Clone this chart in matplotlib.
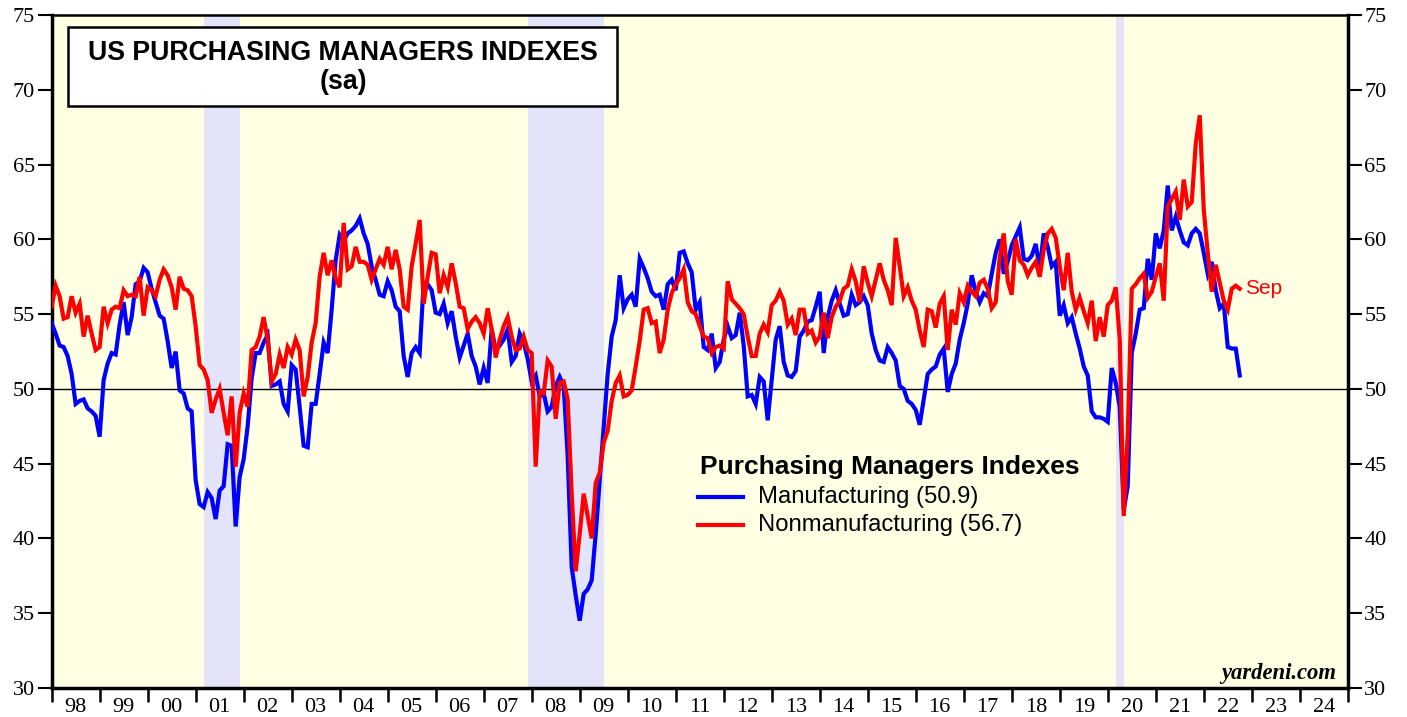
import matplotlib
matplotlib.use("Agg")
import matplotlib.pyplot as plt
from matplotlib.patches import Rectangle
import numpy as np

# Monthly data, first point = Dec 1997, last = Sep 2022
start_year, start_month = 1997, 12
manufacturing = [
    54.4, 53.7, 52.9, 52.8, 52.2, 51.0, 49.0, 49.2, 49.3, 48.7, 48.5, 48.2, 46.8,
    50.6, 51.7, 52.4, 52.3, 54.3, 55.8, 53.6, 54.8, 57.0, 57.2, 58.1, 57.8,
    56.7, 55.8, 54.9, 54.7, 53.2, 51.4, 52.5, 49.9, 49.7, 48.7, 48.5, 43.9,
    42.3, 42.1, 43.1, 42.7, 41.3, 43.2, 43.5, 46.3, 46.2, 40.8, 44.1, 45.3,
    47.5, 50.7, 52.4, 52.4, 53.1, 53.6, 50.2, 50.3, 50.5, 49.0, 48.5, 51.6,
    51.3, 48.8, 46.2, 46.1, 49.0, 49.0, 51.0, 53.1, 52.4, 55.3, 58.6, 60.3,
    59.9, 60.4, 60.6, 60.9, 61.4, 60.4, 59.7, 58.2, 57.3, 56.3, 56.2, 57.2,
    56.6, 55.5, 55.2, 52.2, 50.8, 52.4, 52.8, 52.4, 57.1, 57.0, 56.6, 55.1,
    55.0, 55.7, 54.4, 55.2, 53.5, 52.1, 52.9, 53.7, 52.2, 51.5, 50.3, 51.4,
    50.4, 54.0, 52.6, 52.9, 53.3, 54.0, 51.8, 52.2, 53.7, 53.1, 52.0, 50.5,
    50.9, 49.5, 49.7, 48.5, 48.8, 50.2, 50.8, 50.2, 45.5, 38.1, 36.2, 34.5,
    36.3, 36.6, 37.2, 40.3, 43.9, 47.5, 51.0, 53.5, 54.6, 57.6, 55.4, 56.0,
    56.3, 55.5, 58.7, 58.1, 57.4, 56.5, 56.2, 56.3, 55.3, 57.0, 57.3, 56.6,
    59.1, 59.2, 58.4, 57.8, 55.3, 55.8, 52.8, 52.6, 53.7, 51.4, 51.8, 53.3,
    54.2, 53.4, 53.6, 55.1, 52.9, 49.5, 49.6, 49.0, 50.8, 50.5, 47.9, 50.6,
    53.3, 54.2, 51.8, 50.9, 50.8, 51.2, 53.5, 53.9, 54.5, 54.6, 55.5, 56.5,
    52.4, 54.8, 55.9, 56.6, 55.7, 54.9, 55.0, 56.3, 55.6, 55.8, 56.2, 55.6,
    53.7, 52.6, 51.9, 51.8, 52.8, 52.4, 51.9, 50.2, 50.0, 49.2, 49.0, 48.6,
    47.6, 49.3, 51.0, 51.3, 51.5, 52.3, 52.7, 49.8, 51.0, 51.7, 53.3, 54.4,
    55.7, 57.6, 56.5, 55.8, 56.4, 56.2, 57.7, 59.1, 60.0, 57.7, 58.5, 59.6,
    60.2, 60.8, 58.7, 58.6, 58.9, 59.7, 58.0, 60.4, 59.5, 58.2, 58.5, 54.9,
    55.6, 54.4, 54.8, 53.7, 52.7, 51.5, 50.9, 48.5, 48.1, 48.1, 48.0, 47.8,
    51.4, 50.4, 48.8, 41.9, 43.5, 52.4, 53.7, 55.3, 55.4, 58.7, 57.3, 60.4,
    59.4, 60.6, 63.6, 60.6, 61.5, 60.6, 59.8, 59.6, 60.4, 60.7, 60.4, 59.1,
    57.7, 58.5, 56.6, 55.4, 55.7, 52.8, 52.7, 52.7, 50.9,
]
nonmanufacturing = [
    55.5, 56.9, 56.2, 54.7, 54.8, 56.2, 55.1, 55.7, 53.5, 54.9, 53.7, 52.6, 52.8,
    55.5, 54.4, 55.3, 55.5, 55.4, 56.6, 56.2, 56.3, 56.2, 57.5, 54.9, 56.8,
    56.6, 56.2, 57.3, 58.0, 57.6, 56.8, 55.3, 57.5, 56.7, 56.6, 56.2, 54.2,
    51.6, 51.3, 50.6, 48.4, 49.3, 50.0, 48.4, 46.9, 49.5, 44.8, 48.4, 49.7,
    48.8, 52.6, 52.8, 53.5, 54.8, 53.3, 50.5, 51.0, 52.3, 51.4, 52.8, 52.3,
    53.3, 52.6, 49.5, 50.8, 53.1, 54.4, 57.5, 59.1, 57.6, 58.6, 57.4, 56.8,
    61.1, 58.0, 58.2, 59.5, 58.5, 58.5, 58.3, 57.3, 58.0, 58.7, 58.3, 59.5,
    58.0, 59.3, 58.0, 55.5, 55.3, 58.2, 59.7, 61.3, 55.7, 57.5, 59.1, 59.0,
    56.4, 57.6, 56.8, 58.4, 57.1, 55.5, 55.4, 54.0, 54.5, 54.8, 54.4, 53.7,
    55.4, 54.0, 52.1, 53.3, 54.2, 54.8, 53.5, 52.6, 52.7, 53.5, 52.6, 52.4,
    44.8, 49.8, 49.7, 51.9, 51.5, 48.0, 50.4, 50.5, 49.3, 43.0, 37.8, 40.3,
    43.0, 41.5, 40.0, 43.7, 44.4, 46.4, 47.2, 49.2, 50.4, 50.9, 49.5, 49.6,
    49.9, 51.5, 53.2, 55.3, 55.4, 54.4, 54.5, 52.4, 53.3, 55.3, 56.4, 57.0,
    57.4, 58.0, 55.8, 55.2, 55.0, 54.2, 53.5, 53.4, 52.4, 52.8, 52.9, 52.7,
    57.2, 56.0, 55.7, 55.4, 55.0, 53.5, 52.2, 52.2, 53.7, 54.3, 53.8, 55.6,
    55.9, 56.5, 55.9, 54.3, 54.7, 53.6, 55.3, 55.3, 53.7, 53.9, 53.1, 53.5,
    55.1, 53.4, 54.8, 55.5, 55.9, 56.7, 56.9, 58.0, 57.2, 55.8, 58.2, 57.1,
    56.2, 57.3, 58.4, 57.3, 56.6, 55.6, 60.1, 58.2, 56.2, 56.8, 55.9, 55.3,
    53.9, 52.8, 55.3, 55.2, 54.1, 55.7, 56.2, 52.6, 55.3, 54.3, 56.4, 55.8,
    56.9, 56.5, 56.2, 57.1, 57.3, 56.7, 55.4, 55.8, 58.8, 60.4, 57.2, 56.3,
    60.0, 58.6, 58.3, 57.6, 58.1, 58.5, 57.5, 59.3, 60.4, 60.7, 60.1, 58.2,
    56.6, 59.1, 56.5, 55.3, 56.1, 55.2, 54.4, 55.9, 53.2, 54.8, 53.5, 55.6,
    55.9, 56.8, 53.3, 41.5, 47.0, 56.7, 57.0, 57.4, 57.7, 56.1, 56.5, 57.5,
    58.4, 55.9, 62.2, 62.7, 63.2, 61.3, 64.0, 62.2, 62.5, 66.4, 68.3, 62.0,
    59.1, 56.5, 58.3, 57.1, 55.9, 55.3, 56.7, 56.9, 56.7,
]
recessions = [(2001.17, 2001.92), (2007.92, 2009.5), (2020.17, 2020.33)]
year_labels = ["98", "99", "00", "01", "02", "03", "04", "05", "06", "07", "08",
               "09", "10", "11", "12", "13", "14", "15", "16", "17", "18", "19",
               "20", "21", "22", "23", "24"]
y_ticks = [30, 35, 40, 45, 50, 55, 60, 65, 70, 75]

n = len(manufacturing)
t = start_year + start_month / 12 + np.arange(n) / 12.0

W, H = 1407, 717
fig = plt.figure(figsize=(W / 100, H / 100), dpi=100)
ax = fig.add_axes([0.0367, 0.0404, 0.9212, 0.9386])
ax.set_facecolor("#FFFFE3")
ax.set_xlim(1998, 2025)
ax.set_ylim(30, 75)

for a, b in recessions:
    ax.axvspan(a, b, color="#E3E3FA", lw=0, zorder=0)

ax.axhline(50, color="black", lw=1.0, zorder=1)
ax.plot(t, manufacturing, color="#0000FF", lw=3, zorder=3, solid_joinstyle="miter")
ax.plot(t[:len(nonmanufacturing)], nonmanufacturing, color="#FF0000", lw=3, zorder=4,
        solid_joinstyle="miter")

serif = "Liberation Serif"
sans = "Liberation Sans"

# y axis ticks both sides
ax.set_yticks(y_ticks)
ax.tick_params(axis="y", which="major", direction="out", length=10, width=1.5,
               left=True, right=True, labelleft=True, labelright=True, pad=2,
               labelsize=16)
for lab in ax.get_yticklabels():
    lab.set_fontfamily(serif)

# x axis: ticks at year boundaries, labels centered
years = np.arange(1998, 2026)
ax.set_xticks(years)
ax.set_xticklabels([])
ax.set_xticks(years[:-1] + 0.5, minor=True)
ax.set_xticklabels(year_labels, minor=True, fontfamily=serif, fontsize=16)
ax.tick_params(axis="x", which="major", direction="out", length=10, width=1.8)
ax.tick_params(axis="x", which="minor", length=0, pad=7)

for side in ["left", "right", "bottom"]:
    ax.spines[side].set_linewidth(2.5)
ax.spines["top"].set_linewidth(1.8)

# Title box
fig.add_artist(Rectangle((68 / W, 1 - 106 / H), (617 - 68) / W, (106 - 27) / H,
                         transform=fig.transFigure, facecolor="white",
                         edgecolor="black", lw=1.8, zorder=6))
fig.text(343 / W, 1 - 53 / H, "US PURCHASING MANAGERS INDEXES", ha="center",
         va="center", fontsize=19.2, fontweight="bold", fontfamily=sans, zorder=7)
fig.text(343 / W, 1 - 82 / H, "(sa)", ha="center", va="center", fontsize=19.2,
         fontweight="bold", fontfamily=sans, zorder=7)

# Legend
fig.text(700 / W, 1 - 467 / H, "Purchasing Managers Indexes", fontsize=19,
         fontweight="bold", fontfamily=sans, ha="left", va="center")
for ypix, col, label in [(497, "#0000FF", "Manufacturing (50.9)"),
                         (525, "#FF0000", "Nonmanufacturing (56.7)")]:
    fig.add_artist(plt.Line2D([698 / W, 743 / W], [1 - ypix / H, 1 - ypix / H],
                              color=col, lw=3))
    fig.text(758 / W, 1 - ypix / H, label, fontsize=17.2, fontfamily=sans,
             ha="left", va="center")

ax.annotate("Sep", xy=(t[-1], nonmanufacturing[-1]), xytext=(4, 0),
            textcoords="offset points", color="#FF0000", fontsize=15,
            fontfamily=sans, va="center", ha="left")

ax.text(0.9915, 0.006, "yardeni.com", transform=ax.transAxes, ha="right", va="bottom",
        fontsize=16.3, fontweight="bold", fontstyle="italic", fontfamily=serif)

fig.savefig("out.png", dpi=100)
